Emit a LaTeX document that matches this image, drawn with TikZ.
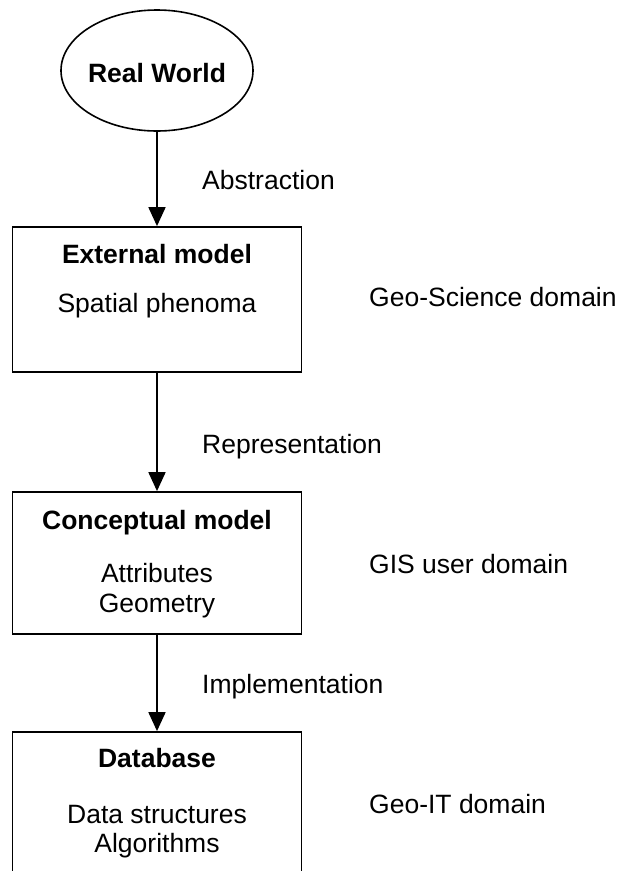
\documentclass[tikz,border=0pt]{standalone}
\usepackage{fontspec}
\setmainfont{Liberation Sans}
\usetikzlibrary{shapes.geometric,arrows.meta}
\begin{document}
\begin{tikzpicture}[x=1pt,y=-1pt,
  txt/.style={inner sep=0pt,anchor=base,font=\fontsize{26.5}{30}\selectfont},
  side/.style={inner sep=0pt,anchor=base west,font=\fontsize{26.5}{30}\selectfont},
  ttl/.style={inner sep=0pt,anchor=base,font=\fontsize{26.5}{30}\selectfont\bfseries},
  boxshape/.style={draw,line width=1.8pt,rectangle,inner sep=0pt,minimum width=289pt},
  conn/.style={line width=1.8pt,-{Triangle[length=19pt,width=17pt]}}]
\clip (0,0) rectangle (619,871);
\fill[white] (0,0) rectangle (619,871);
% shapes
\node[draw,line width=1.6pt,ellipse,minimum width=192pt,minimum height=121pt,inner sep=0pt] (rw) at (157,70.5) {};
\node[boxshape,minimum height=145pt] (b1) at (157,299.5) {};
\node[boxshape,minimum height=142pt] (b2) at (157,563) {};
\node[boxshape,minimum height=228pt] (b3) at (157,846) {};
% connectors
\draw[conn] (rw.south) -- (b1.north);
\draw[conn] (b1.south) -- (b2.north);
\draw[conn] (b2.south) -- (b3.north);
% texts in shapes
\node[ttl] (rwt) at (157,82) {Real World};
\node[ttl] (b1t) at (157,263) {External model};
\node[txt] (b1a) at (157,312) {Spatial phenoma};
\node[ttl] (b2t) at (157,529) {Conceptual model};
\node[txt] (b2a) at (157,582) {Attributes};
\node[txt] (b2b) at (157,612) {Geometry};
\node[ttl] (b3t) at (157,767) {Database};
\node[txt] (b3a) at (157,823) {Data structures};
\node[txt] (b3b) at (157,852) {Algorithms};
% connector labels
\node[side] (l1) at (202,189) {Abstraction};
\node[side] (l2) at (202,453) {Representation};
\node[side] (l3) at (202,693) {Implementation};
% domain labels
\node[side] (d1) at (369,306) {Geo-Science domain};
\node[side] (d2) at (369,573) {GIS user domain};
\node[side] (d3) at (369,813) {Geo-IT domain};
\end{tikzpicture}
\end{document}
